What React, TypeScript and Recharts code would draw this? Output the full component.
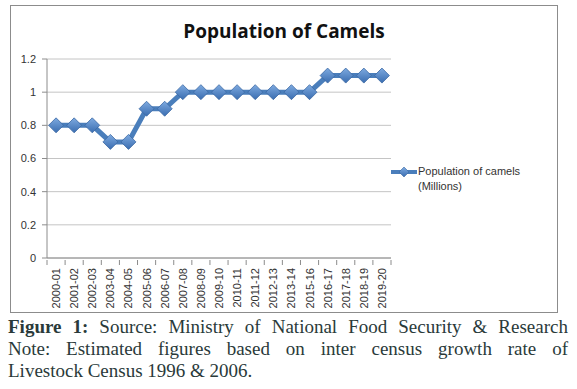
import React from "react";
import { CartesianGrid, Line, LineChart, XAxis, YAxis } from "recharts";

const years = [
  "2000-01", "2001-02", "2002-03", "2003-04", "2004-05", "2005-06", "2006-07",
  "2007-08", "2008-09", "2009-10", "2010-11", "2011-12", "2012-13", "2013-14",
  "2015-16", "2016-17", "2017-18", "2018-19", "2019-20",
];
const camels = [
  0.8, 0.8, 0.8, 0.7, 0.7, 0.9, 0.9, 1, 1, 1, 1, 1, 1, 1, 1, 1.1, 1.1, 1.1, 1.1,
];
const yTicks = [0, 0.2, 0.4, 0.6, 0.8, 1, 1.2];

const data = years.map((year, i) => ({ year, camels: camels[i] }));

const BLUE = "#4a7ebb";
const AXIS = "#8c8c8c";
const HALF_STEP = 9.05;
const SANS = "Liberation Sans, Arial, sans-serif";

function Diamond(props: any) {
  const { cx, cy } = props;
  if (cx == null || cy == null) return null;
  const r = 7.5;
  return (
    <polygon
      points={`${cx},${cy - r} ${cx + r},${cy} ${cx},${cy + r} ${cx - r},${cy}`}
      fill="url(#diamondFill)"
      stroke="#3b68a3"
      strokeWidth={0.8}
    />
  );
}

function YearTick(props: any) {
  const { x, y, payload, index } = props;
  const last = index === years.length - 1;
  return (
    <g>
      <line x1={x - HALF_STEP} x2={x - HALF_STEP} y1={y - 6} y2={y - 1} stroke={AXIS} />
      {last ? (
        <line x1={x + HALF_STEP} x2={x + HALF_STEP} y1={y - 6} y2={y - 1} stroke={AXIS} />
      ) : null}
      <text
        x={x + 4}
        y={y + 2}
        transform={`rotate(-90, ${x + 4}, ${y + 2})`}
        textAnchor="end"
        fontSize={11}
        fontFamily={SANS}
        fill="#333"
      >
        {payload.value}
      </text>
    </g>
  );
}

function LegendBox() {
  return (
    <div style={{ display: "flex", alignItems: "flex-start", fontFamily: SANS, fontSize: 11, color: "#333" }}>
      <svg width={28} height={14}>
        <defs>
          <linearGradient id="diamondFillLegend" x1="0" y1="0" x2="0" y2="1">
            <stop offset="0%" stopColor="#7eaae0" />
            <stop offset="100%" stopColor="#3a6db0" />
          </linearGradient>
        </defs>
        <line x1={1} x2={27} y1={7} y2={7} stroke={BLUE} strokeWidth={4} />
        <polygon points="14,2 19,7 14,12 9,7" fill="url(#diamondFillLegend)" stroke="#3b68a3" strokeWidth={0.6} />
      </svg>
      <div style={{ lineHeight: "15px", marginTop: -1 }}>
        Population of camels
        <br />
        (Millions)
      </div>
    </div>
  );
}

export default function App() {
  return (
    <div style={{ position: "absolute", left: 0, top: 0, width: 577, height: 389, background: "#fff" }}>
      <div
        style={{
          position: "absolute",
          left: 10,
          top: 5,
          width: 546,
          height: 306,
          border: "1px solid #8c8c8c",
          background: "#fff",
        }}
      >
        <div
          style={{
            position: "absolute",
            left: 0,
            top: 12,
            width: 546,
            textAlign: "center",
            fontFamily: "Open Sans, sans-serif",
            fontWeight: 700,
            fontSize: 19,
            color: "#111",
          }}
        >
          Population of Camels
        </div>
        <div style={{ position: "absolute", left: 379, top: 159, width: 165 }}>
          <LegendBox />
        </div>
        <LineChart
          width={546}
          height={306}
          data={data}
          margin={{ top: 53, right: 166, bottom: 0, left: 0 }}
        >
          <defs>
            <linearGradient id="diamondFill" x1="0" y1="0" x2="0" y2="1">
              <stop offset="0%" stopColor="#7eaae0" />
              <stop offset="100%" stopColor="#3a6db0" />
            </linearGradient>
          </defs>
          <CartesianGrid vertical={false} stroke="#c4c4c4" />
          <XAxis
            dataKey="year"
            interval={0}
            height={54}
            padding={{ left: HALF_STEP, right: HALF_STEP }}
            stroke={AXIS}
            tickLine={false}
            tick={<YearTick />}
          />
          <YAxis
            domain={[0, 1.2]}
            ticks={yTicks}
            width={36}
            stroke={AXIS}
            tickSize={5}
            tickMargin={6}
            tick={{ fontSize: 11, fill: "#333", fontFamily: SANS }}
          />
          <Line
            type="linear"
            dataKey="camels"
            name="Population of camels (Millions)"
            stroke={BLUE}
            strokeWidth={5}
            dot={<Diamond />}
            activeDot={false}
            isAnimationActive={false}
          />
        </LineChart>
      </div>
      <div
        style={{
          position: "absolute",
          left: 8,
          top: 316,
          width: 560,
          fontFamily: "Liberation Serif, Times New Roman, serif",
          fontSize: 19,
          lineHeight: "22px",
          color: "#2a3a3a",
        }}
      >
        <div style={{ textAlign: "justify", textAlignLast: "justify" }}>
          <b>Figure 1:</b> Source: Ministry of National Food Security &amp; Research
        </div>
        <div style={{ textAlign: "justify", textAlignLast: "justify" }}>
          Note: Estimated figures based on inter census growth rate of
        </div>
        <div>Livestock Census 1996 &amp; 2006.</div>
      </div>
    </div>
  );
}
